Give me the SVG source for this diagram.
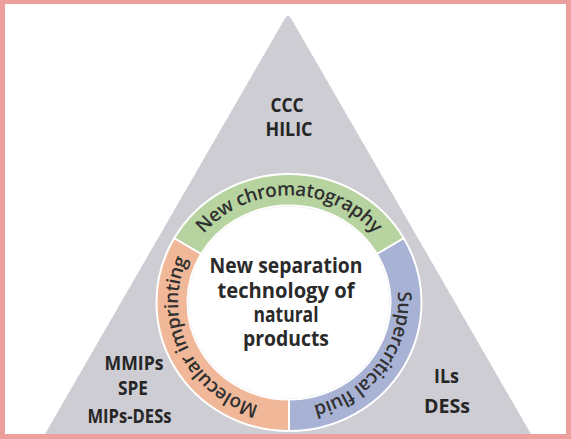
<svg xmlns="http://www.w3.org/2000/svg" width="571" height="439" viewBox="0 0 571 439">
<style>
.lbl{font-family:"Open Sans","Liberation Sans",sans-serif;font-weight:700;font-size:20px;fill:#262626;text-anchor:middle}
.ctr{font-family:"Open Sans","Liberation Sans",sans-serif;font-weight:700;font-size:21.5px;fill:#2a2a2a;text-anchor:middle}
.arc{font-family:"Open Sans","Liberation Sans",sans-serif;font-weight:600;font-size:19px;letter-spacing:-0.4px;fill:#303030;text-anchor:middle}
.seg{stroke:#ffffff;stroke-width:2;stroke-linejoin:round}
</style>
<defs>
<path id="pTop" d="M 178,302.5 A 111 107 0 0 1 400,302.5"/>
<path id="pRight" d="M 352.7,214.9 A 111 107 0 0 1 225.3,390.1"/>
<path id="pLeft" d="M 335.9,399.5 A 111 107 0 0 1 242.1,205.5"/>
</defs>
<rect x="0" y="0" width="571" height="439" fill="#ffffff"/>
<g id="triangle">
<path d="M 284,20 Q 288,12 292,20 L 546,460 L 30,460 Z" fill="#cdcdd3"/>
</g>
<g id="ring">
<g id="seg-chromatography">
<path class="seg" d="M 174.25,238.25 A 132.5 128.5 0 0 1 403.75,238.25 L 376.9,254 A 101.5 97 0 0 0 201.1,254 Z" fill="#b7d4a0"/>
<text class="arc"><textPath href="#pTop" startOffset="50%">New chromatography</textPath></text>
</g>
<g id="seg-supercritical">
<path class="seg" d="M 403.75,238.25 A 132.5 128.5 0 0 1 289,431 L 289,399.5 A 101.5 97 0 0 0 376.9,254 Z" fill="#a8b2d4"/>
<text class="arc"><textPath href="#pRight" startOffset="50%">Supercritical fluid</textPath></text>
</g>
<g id="seg-imprinting">
<path class="seg" d="M 289,431 A 132.5 128.5 0 0 1 174.25,238.25 L 201.1,254 A 101.5 97 0 0 0 289,399.5 Z" fill="#f0b898"/>
<text class="arc"><textPath href="#pLeft" startOffset="50%">Molecular imprinting</textPath></text>
</g>
</g>
<g id="center">
<ellipse cx="289" cy="302.5" rx="100.5" ry="96" fill="#ffffff"/>
<text class="ctr" x="286" y="273" textLength="153" lengthAdjust="spacingAndGlyphs">New separation</text>
<text class="ctr" x="286" y="297.5" textLength="137" lengthAdjust="spacingAndGlyphs">technology of</text>
<text class="ctr" x="286" y="322" textLength="65" lengthAdjust="spacingAndGlyphs">natural</text>
<text class="ctr" x="286" y="346" textLength="86" lengthAdjust="spacingAndGlyphs">products</text>
</g>
<g id="label-top">
<text class="lbl" x="287" y="112" textLength="33" lengthAdjust="spacingAndGlyphs">CCC</text>
<text class="lbl" x="289" y="136" textLength="47" lengthAdjust="spacingAndGlyphs">HILIC</text>
</g>
<g id="label-left">
<text class="lbl" x="134" y="370" textLength="59" lengthAdjust="spacingAndGlyphs">MMIPs</text>
<text class="lbl" x="133" y="395" textLength="30" lengthAdjust="spacingAndGlyphs">SPE</text>
<text class="lbl" x="129.5" y="423" textLength="84" lengthAdjust="spacingAndGlyphs">MIPs-DESs</text>
</g>
<g id="label-right">
<text class="lbl" x="446.5" y="383" textLength="25" lengthAdjust="spacingAndGlyphs">ILs</text>
<text class="lbl" x="447" y="413" textLength="46" lengthAdjust="spacingAndGlyphs">DESs</text>
</g>
<g id="connectors"/>
<path id="frame" d="M0,0 H571 V439 H0 Z M5,4 V434 H566 V4 Z" fill="#ed9f9e" fill-rule="evenodd"/>
</svg>
